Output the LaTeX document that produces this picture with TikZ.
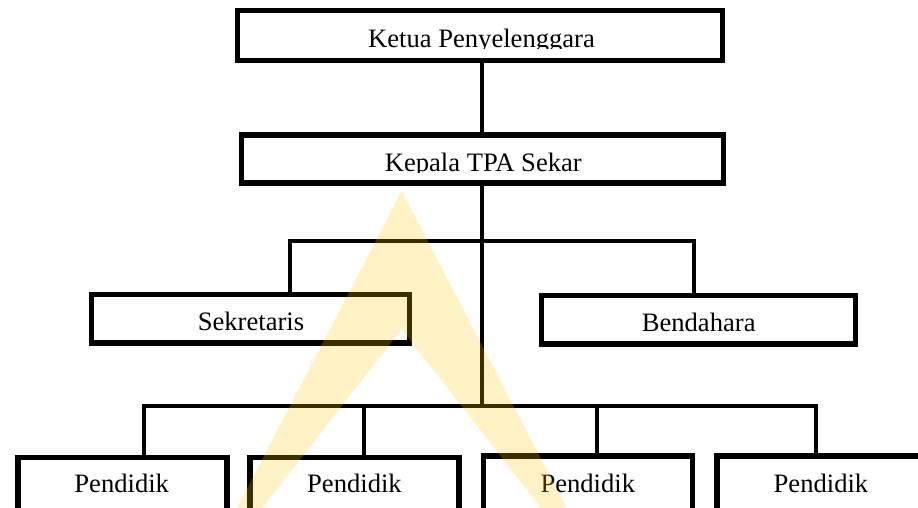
\documentclass[tikz,border=0pt]{standalone}
\usepackage{fontspec}
\setmainfont{Liberation Serif}
\usetikzlibrary{calc}
\definecolor{wmyellow}{RGB}{255,199,0}
\tikzset{
    box/.style={draw, rectangle, line width=2.7pt, inner sep=0pt, fill=white},
    txt/.style={inner sep=0pt, anchor=base, font=\fontsize{13.3}{16}\selectfont},
    conn/.style={line width=2pt}
}

\begin{document}
\begin{tikzpicture}[x=0.5pt, y=-0.5pt]
                    \useasboundingbox (0,0) rectangle (918,508);

                    \node[box, minimum width=242.25pt, minimum height=25pt] (ketua) at (480,35.5) {};
                    \node[box, minimum width=240.75pt, minimum height=24pt] (kepala) at (482.5,159) {};
                    \node[box, minimum width=158.75pt, minimum height=24.3pt] (sek) at (250.5,318.7) {};
                    \node[box, minimum width=157pt, minimum height=24.2pt] (bend) at (698.4,320) {};
                    \node[box, minimum width=104.5pt, minimum height=30pt] (pd1) at (122.5,487.5) {};
                    \node[box, minimum width=104.5pt, minimum height=30pt] (pd2) at (354.5,487.5) {};
                    \node[box, minimum width=104.5pt, minimum height=30pt] (pd3) at (588,486) {};
                    \node[box, minimum width=104.5pt, minimum height=30pt] (pd4) at (821.5,486) {};

                    \coordinate (a0) at (482,241);
                    \coordinate (a1) at (290,241);
                    \coordinate (a2) at (694,241);
                    \coordinate (b0) at (482,406);
                    \coordinate (b1) at (144.3,406);
                    \coordinate (b2) at (364,406);
                    \coordinate (b3) at (597,406);
                    \coordinate (b4) at (816.3,406);

                    \draw[conn]
                    (ketua.south -| a0) edge (kepala.north -| a0)
                    (kepala.south -| b0) edge (b0)
                    (b2) edge (pd2.north -| b2)
                    (b3) edge (pd3.north -| b3);
                    \draw[conn] (sek.north -| a1) -- (a1) -- (a2) -- (bend.north -| a2);
                    \draw[conn] (pd1.north -| b1) -- (b1) -- (b4) -- (pd4.north -| b4);

                    \begin{scope}
                    \clip (ketua.north west) rectangle (ketua.east |- 0,48.6);
                    \node[txt] (ketuat) at (481.5,48) {Ketua Penyelenggara};
                    \end{scope}
                    \begin{scope}
                    \clip (kepala.north west) rectangle (kepala.east |- 0,172.2);
                    \node[txt] (kepalat) at (483.3,171.7) {Kepala TPA Sekar};
                    \end{scope}
                    \node[txt] (sekt) at (251,331) {Sekretaris};
                    \node[txt] (bendt) at (698.7,331.7) {Bendahara};
                    \node[txt] (pd1t) at (121.7,493) {Pendidik};
                    \node[txt] (pd2t) at (354.5,493) {Pendidik};
                    \node[txt] (pd3t) at (587.8,493) {Pendidik};
                    \node[txt] (pd4t) at (821,493) {Pendidik};

                    % watermark
                    \fill[wmyellow, fill opacity=0.23] (401.7,191) -- (237,508) -- (262.3,508)
                    -- (401.7,329.3) -- (541,508) -- (566.5,508) -- cycle;
                \end{tikzpicture}
\end{document}
